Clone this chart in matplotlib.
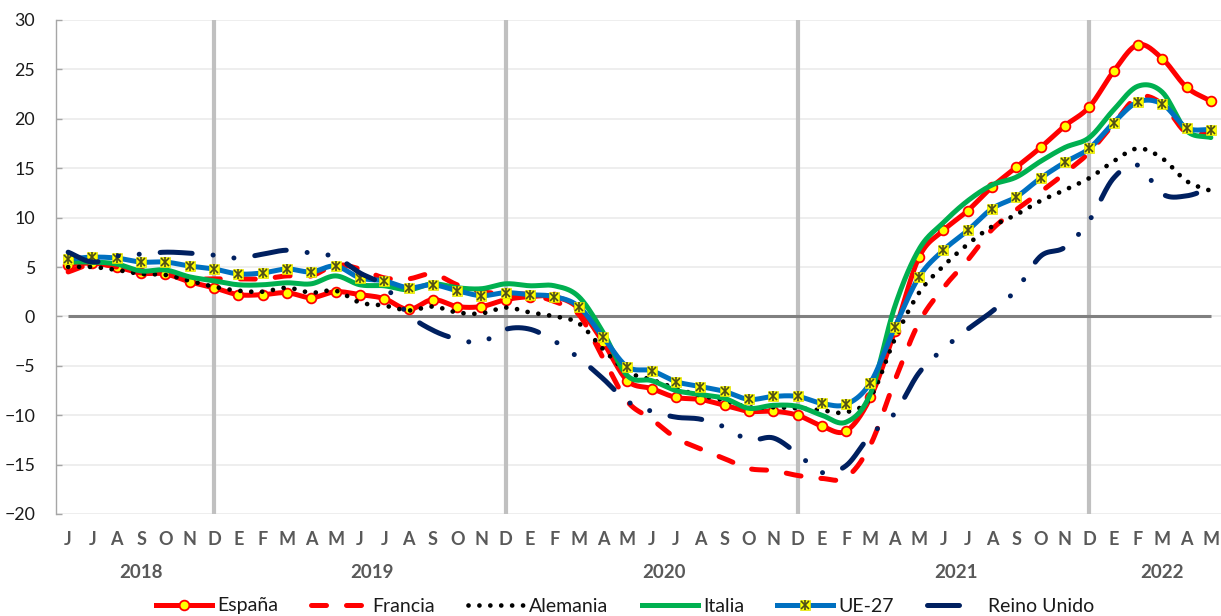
import numpy as np
import matplotlib
matplotlib.use("Agg")
import matplotlib.pyplot as plt
from matplotlib.lines import Line2D
from matplotlib.legend_handler import HandlerTuple
import matplotlib.transforms as mtransforms

plt.rcParams['font.family'] = ['Lato', 'DejaVu Sans']

# ---------------- data ----------------
months = (['J', 'J', 'A', 'S', 'O', 'N', 'D'] +
          ['E', 'F', 'M', 'A', 'M', 'J', 'J', 'A', 'S', 'O', 'N', 'D'] * 3 +
          ['E', 'F', 'M', 'A', 'M'])
years = ['2018', '2019', '2020', '2021', '2022']
months_per_year = [7, 12, 12, 12, 5]

espana = [5.2, 5.4, 5.0, 4.4, 4.3, 3.5, 2.9,
          2.2, 2.2, 2.4, 1.9, 2.5, 2.2, 1.8, 0.7, 1.7, 1.0, 1.0, 1.7,
          2.0, 2.0, 0.8, -2.6, -6.5, -7.3, -8.2, -8.4, -9.0, -9.6, -9.6, -10.0,
          -11.1, -11.6, -8.2, -1.5, 6.0, 8.7, 10.7, 13.1, 15.1, 17.1, 19.3, 21.2,
          24.8, 27.5, 26.1, 23.2, 21.8]
francia = [4.5, 5.3, 5.0, 4.4, 4.3, 3.8, 3.8,
           3.8, 3.8, 4.1, 4.1, 5.2, 4.8, 3.9, 3.8, 4.3, 3.2, 2.5, 2.3,
           2.2, 1.5, 0.2, -4.2, -8.6, -10.4, -12.3, -13.4, -14.4, -15.4, -15.6, -16.1,
           -16.4, -16.3, -13.0, -6.5, -0.6, 2.9, 5.7, 8.8, 10.8, 12.6, 14.5, 16.6,
           19.5, 22.2, 21.5, 18.6, 18.6]
alemania = [5.0, 5.0, 4.7, 4.3, 4.2, 3.6, 3.0,
            2.6, 2.5, 2.9, 2.4, 2.6, 1.4, 1.1, 0.6, 1.0, 0.4, 0.3, 0.9,
            0.4, 0.0, -0.7, -3.3, -5.6, -6.4, -7.3, -8.0, -8.5, -9.2, -9.2, -9.3,
            -9.5, -9.7, -8.2, -2.3, 2.4, 5.1, 7.3, 9.1, 10.3, 11.7, 12.8, 14.0,
            15.7, 17.0, 16.0, 13.7, 12.7]
italia = [5.5, 5.5, 5.3, 4.6, 4.7, 4.0, 3.6,
          3.2, 3.2, 3.4, 3.3, 4.1, 3.2, 3.1, 2.7, 3.3, 2.9, 2.8, 3.3,
          3.1, 3.1, 2.0, -1.6, -6.0, -6.5, -7.5, -7.9, -8.3, -9.3, -9.0, -9.1,
          -10.0, -10.7, -7.8, 1.0, 6.8, 9.5, 11.7, 13.3, 14.1, 15.7, 17.1, 18.1,
          20.9, 23.3, 22.7, 18.8, 18.1]
ue27 = [5.8, 6.0, 5.9, 5.5, 5.5, 5.1, 4.8,
        4.3, 4.4, 4.8, 4.5, 5.1, 3.9, 3.6, 2.9, 3.2, 2.6, 2.1, 2.4,
        2.2, 2.0, 1.0, -2.1, -5.1, -5.5, -6.6, -7.1, -7.6, -8.4, -8.1, -8.1,
        -8.8, -8.9, -6.7, -1.1, 4.0, 6.7, 8.7, 10.9, 12.1, 14.0, 15.6, 17.0,
        19.6, 21.7, 21.5, 19.1, 18.9]
reino_unido = [6.5, 5.5, 6.1, 6.3, 6.5, 6.4, 6.2,
               5.9, 6.3, 6.7, 6.4, 6.0, 4.4, 3.1, 0.2, -1.4, -2.3, -2.6, -1.3,
               -1.3, -2.5, -4.2, -6.3, -8.6, -9.6, -10.2, -10.4, -11.2, -12.5, -12.3, -13.9,
               -15.8, -15.1, -12.0, -9.8, -5.7, -3.3, -1.3, 0.5, 2.7, 6.1, 7.0, 9.7,
               14.0, 15.3, 12.4, 12.2, 13.0]

y_ticks = [-20, -15, -10, -5, 0, 5, 10, 15, 20, 25, 30]


def smooth(y, n=24):
    """Excel-like smoothed line (Catmull-Rom / cubic Hermite through the points)."""
    y = np.asarray(y, float)
    x = np.arange(len(y), dtype=float)
    m = np.gradient(y)
    xs, ys = [], []
    t = np.linspace(0, 1, n, endpoint=False)
    h00 = 2 * t**3 - 3 * t**2 + 1
    h10 = t**3 - 2 * t**2 + t
    h01 = -2 * t**3 + 3 * t**2
    h11 = t**3 - t**2
    for i in range(len(y) - 1):
        xs.append(x[i] + t)
        ys.append(h00 * y[i] + h10 * m[i] + h01 * y[i + 1] + h11 * m[i + 1])
    xs.append([x[-1]])
    ys.append([y[-1]])
    return np.concatenate(xs), np.concatenate(ys)


W, H = 1221, 616
fig = plt.figure(figsize=(W / 100, H / 100), dpi=100)
ax = fig.add_axes([56 / W, (H - 514) / H, 1167 / W, 494 / H])

x = np.arange(len(months))
ax.set_xlim(-0.5, len(months) - 0.5)
ax.set_ylim(y_ticks[0], y_ticks[-1])

# gridlines
ax.set_yticks(y_ticks)
ax.yaxis.grid(True, color='#EDEDED', lw=1.3, zorder=0)
ax.set_axisbelow(True)

# December separators
for i, lab in enumerate(months):
    if lab == 'D':
        ax.axvline(i, color='#C0C0C0', lw=3.0, zorder=1)

# zero line
ax.hlines(0, x[0], x[-1], color='#808080', lw=2.2, zorder=1.5)

LW = 3.6
FR_DASH = (3.0, 4.0)
AL_DASH = (0.01, 2.3)
UK_DASH = (6.4, 4.2, 0.01, 4.2, 0.01, 4.2)
series_style = [
    ('España', espana, dict(color='#FF0000', lw=LW, solid_capstyle='round')),
    ('Francia', francia, dict(color='#FF0000', lw=LW, dashes=FR_DASH, dash_capstyle='round')),
    ('Alemania', alemania, dict(color='#000000', lw=3.4, dashes=AL_DASH, dash_capstyle='round')),
    ('Italia', italia, dict(color='#00B050', lw=LW, solid_capstyle='round')),
    ('UE-27', ue27, dict(color='#0070C0', lw=LW, solid_capstyle='round')),
    ('Reino Unido', reino_unido, dict(color='#002060', lw=LW, dashes=UK_DASH,
                                      dash_capstyle='round')),
]

z = 2
for name, vals, st in series_style:
    xs, ys = smooth(vals)
    ax.plot(xs, ys, zorder=z, **st)
    if name == 'España':
        ax.plot(x, vals, ls='none', marker='o', ms=7, mfc='#FFFF00', mec='#FF0000',
                mew=1.3, zorder=z + 0.1)
    if name == 'UE-27':
        ax.plot(x, vals, ls='none', marker='s', ms=7, mfc='#FFFF00', mec='#E0E000',
                mew=0.5, zorder=z + 0.1)
        ax.plot(x, vals, ls='none', marker='x', ms=6, mec='#4D4D1A', mew=1.2, zorder=z + 0.2)
        ax.plot(x, vals, ls='none', marker='|', ms=6.5, mec='#4D4D1A', mew=1.2, zorder=z + 0.2)
    z += 1

# axes styling
for s in ['top', 'right', 'bottom']:
    ax.spines[s].set_visible(False)
ax.spines['left'].set_color('#A6A6A6')
ax.spines['left'].set_linewidth(1.0)
ax.tick_params(axis='y', direction='in', length=4.5, width=1.0, color='#A6A6A6',
               pad=15, labelsize=12.8, labelcolor='#1A1A1A')
ax.set_xticks(x)
ax.set_xticklabels(months, fontsize=13, fontweight='bold', color='#595959')
ax.tick_params(axis='x', length=0, pad=12)

# year labels
trans = mtransforms.blended_transform_factory(ax.transData, ax.transAxes)
start = 0
for yr, n in zip(years, months_per_year):
    ax.text(start + (n - 1) / 2, -0.119, yr, transform=trans, ha='center', va='center',
            fontsize=13.5, fontweight='bold', color='#595959')
    start += n

# legend
h_es = Line2D([], [], color='#FF0000', lw=LW, marker='o', ms=7, mfc='#FFFF00',
              mec='#FF0000', mew=1.3)
h_fr = Line2D([], [], color='#FF0000', lw=LW, dashes=FR_DASH, dash_capstyle='round')
h_al = Line2D([], [], color='#000000', lw=3.4, dashes=AL_DASH, dash_capstyle='round')
h_it = Line2D([], [], color='#00B050', lw=LW)
h_ue_line = Line2D([], [], color='#0070C0', lw=LW, marker='s', ms=7, mfc='#FFFF00',
                   mec='#E0E000', mew=0.5)
h_ue_x = Line2D([], [], ls='none', marker='x', ms=6, mec='#4D4D1A', mew=1.2)
h_ue_v = Line2D([], [], ls='none', marker='|', ms=6.5, mec='#4D4D1A', mew=1.2)
h_uk = Line2D([], [], color='#002060', lw=LW, dashes=(6.4, 12), dash_capstyle='round')
handles = [h_es, h_fr, h_al, h_it, (h_ue_line, h_ue_x, h_ue_v), h_uk]
labels = [s[0] for s in series_style]
leg = fig.legend(handles, labels, loc='center', bbox_to_anchor=(0.512, (H - 606) / H),
                 ncol=6, frameon=False, fontsize=14, handlelength=2.9,
                 handletextpad=0.25, columnspacing=1.7, borderaxespad=0,
                 handler_map={tuple: HandlerTuple(ndivide=1, pad=0)})
for t in leg.get_texts():
    t.set_color('#1A1A1A')

fig.savefig('out.png', dpi=100)
